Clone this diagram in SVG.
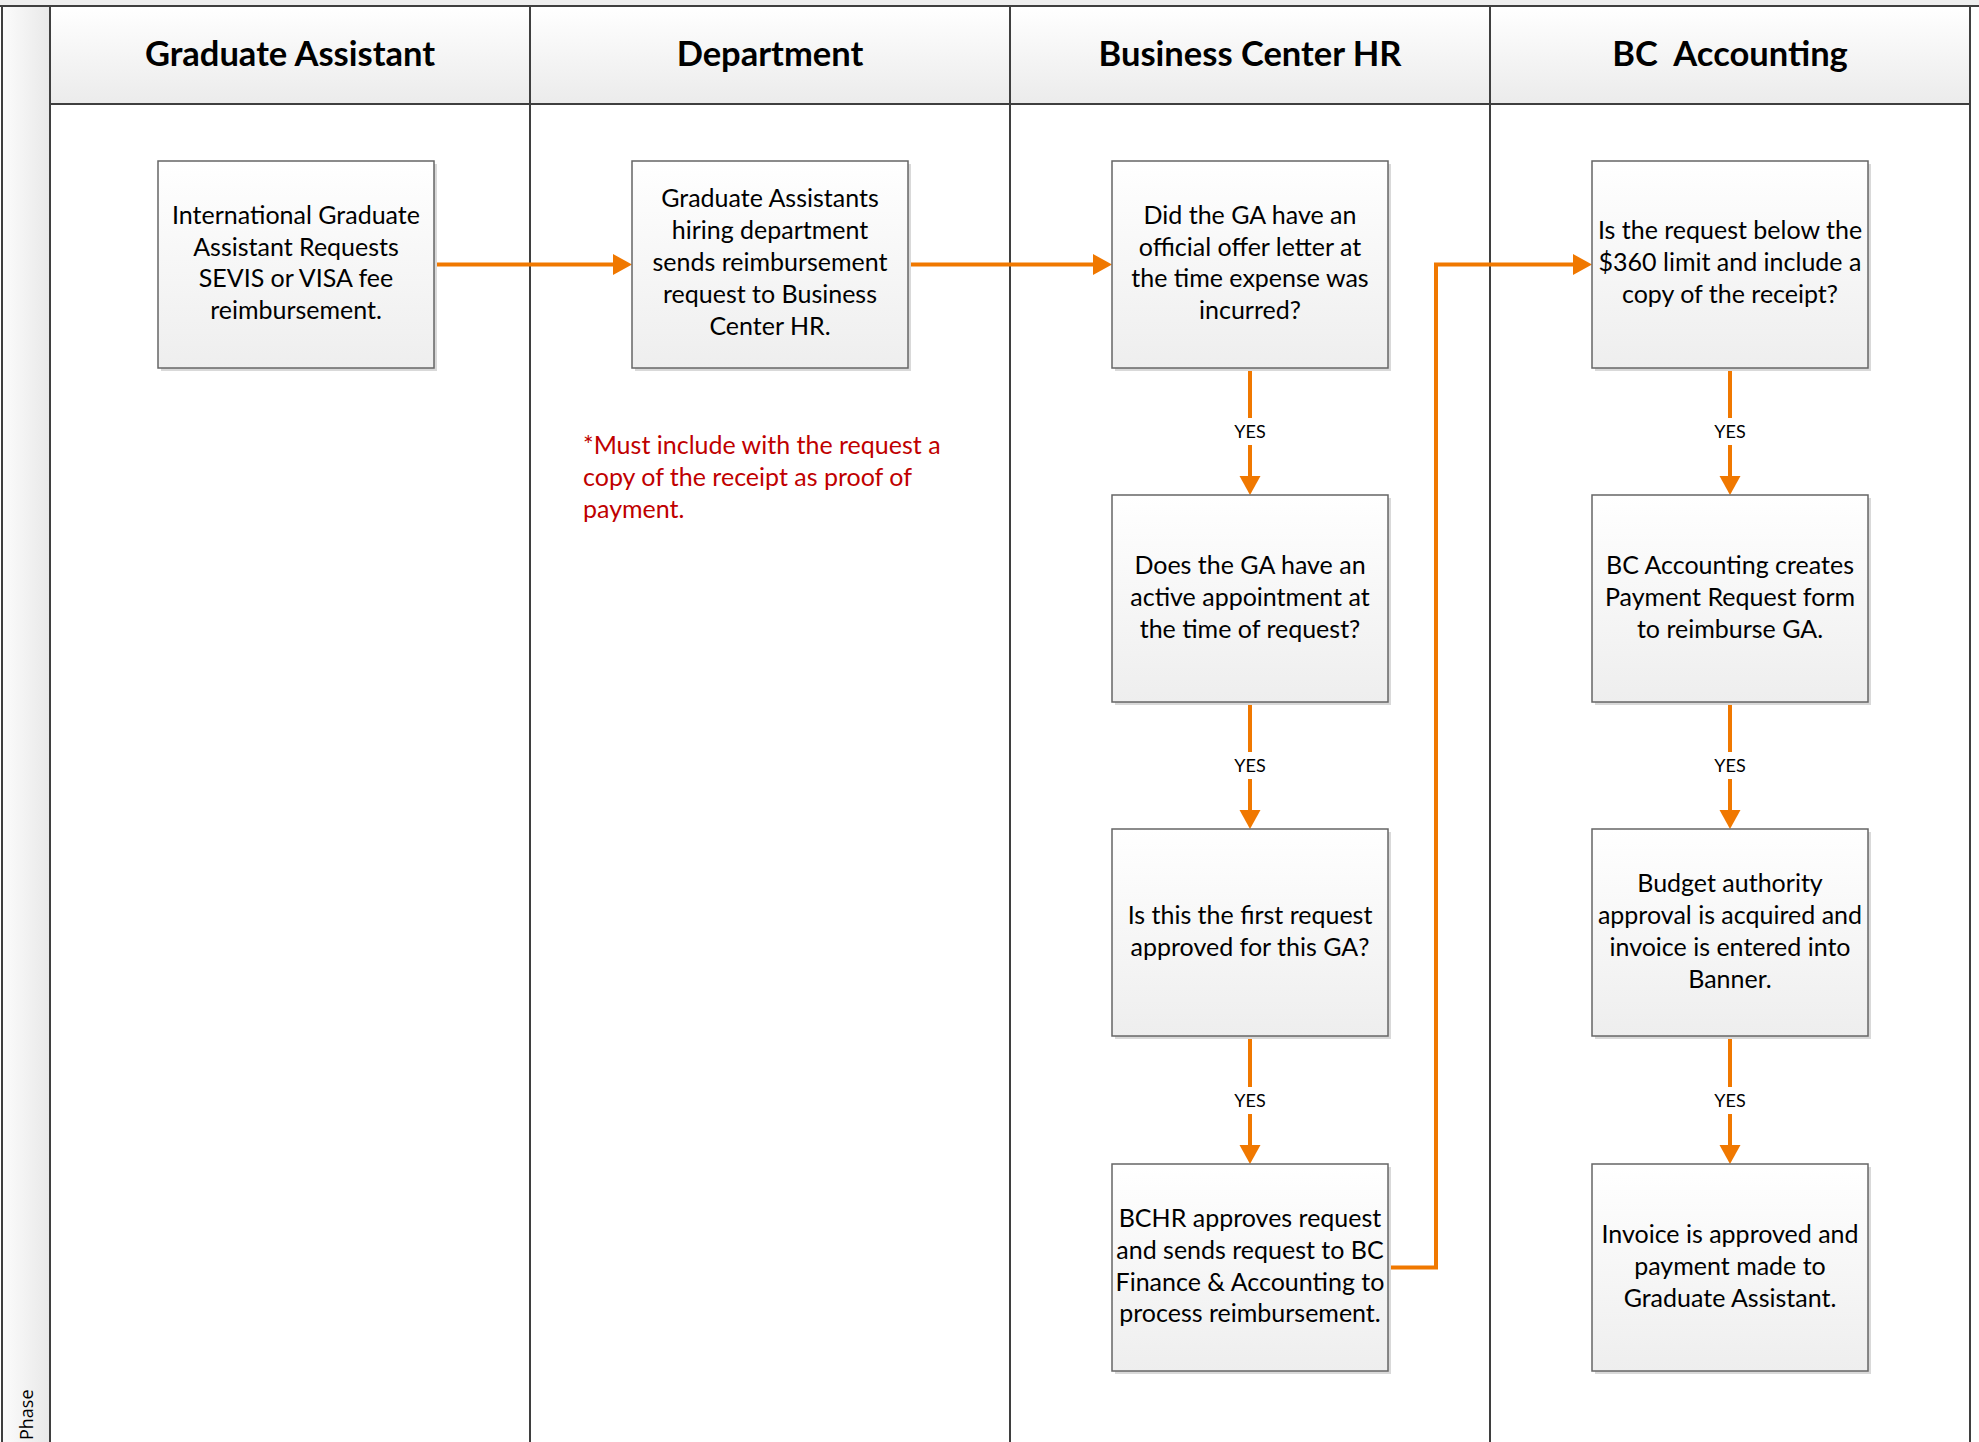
<svg xmlns="http://www.w3.org/2000/svg" width="1979" height="1442" viewBox="0 0 1979 1442">
<defs>
<linearGradient id="gBox" x1="0" y1="0" x2="0" y2="1"><stop offset="0" stop-color="#ffffff"/><stop offset="1" stop-color="#eeeeee"/></linearGradient>
<linearGradient id="gHead" x1="0" y1="0" x2="0" y2="1"><stop offset="0" stop-color="#ffffff"/><stop offset="1" stop-color="#ebebeb"/></linearGradient>
<linearGradient id="gPhase" x1="0" y1="0" x2="1" y2="0"><stop offset="0" stop-color="#fcfcfc"/><stop offset="1" stop-color="#e8e8e8"/></linearGradient>
<marker id="arr" markerUnits="userSpaceOnUse" markerWidth="20" markerHeight="22" refX="0" refY="11" orient="auto" viewBox="0 0 20 22"><path d="M0,0.5 L19,11 L0,21.5 Z" fill="#F07800"/></marker>
</defs>
<style>
.lane{stroke:#3f3f3f;stroke-width:2;fill:none}
.hdr{font-family:Lato,"Liberation Sans",sans-serif;font-weight:bold;font-size:34.5px;fill:#000;text-anchor:middle;white-space:pre}
.box{fill:url(#gBox);stroke:#666666;stroke-width:1.5}
.shd{fill:#d9d9d9}
.txt{font-family:Lato,"Liberation Sans",sans-serif;font-size:25px;fill:#000;text-anchor:middle}
.note{font-family:Lato,"Liberation Sans",sans-serif;font-size:25px;fill:#C00000}
.con{stroke:#F07800;stroke-width:4;fill:none;marker-end:url(#arr)}
.yes{font-family:Lato,"Liberation Sans",sans-serif;font-size:18px;fill:#000;text-anchor:middle}
.phase{font-family:"Open Sans","Noto Sans",sans-serif;font-size:18px;fill:#000}
</style>
<rect x="0" y="0" width="1979" height="1442" fill="#ffffff"/>
<g id="pool">
<rect x="0" y="0" width="1979" height="6" fill="#eeeeee"/>
<rect x="2" y="6" width="48" height="1436" fill="url(#gPhase)"/>
<rect x="50" y="6" width="1920" height="98" fill="url(#gHead)"/>
<line class="lane" x1="0" y1="6" x2="1979" y2="6"/>
<line class="lane" x1="2" y1="6" x2="2" y2="1442"/>
<line class="lane" x1="50" y1="6" x2="50" y2="1442"/>
<line class="lane" x1="50" y1="104" x2="1970" y2="104"/>
<line class="lane" x1="530" y1="6" x2="530" y2="1442"/>
<line class="lane" x1="1010" y1="6" x2="1010" y2="1442"/>
<line class="lane" x1="1490" y1="6" x2="1490" y2="1442"/>
<line class="lane" x1="1970" y1="6" x2="1970" y2="1442"/>
<text class="phase" transform="translate(33,1440) rotate(-90)">Phase</text>
<text class="hdr" x="290" y="66">Graduate Assistant</text>
<text class="hdr" x="770" y="66">Department</text>
<text class="hdr" x="1250" y="66">Business Center HR</text>
<text class="hdr" x="1730" y="66">BC  Accounting</text>
</g>
<g id="connectors">
<path class="con" d="M434,264.5 H613"/>
<path class="con" d="M908,264.5 H1093"/>
<path class="con" d="M1388,1267.5 H1436 V264.5 H1573"/>
<path class="con" d="M1250,368 V476"/>
<path class="con" d="M1250,702 V810"/>
<path class="con" d="M1250,1037 V1145"/>
<path class="con" d="M1730,368 V476"/>
<path class="con" d="M1730,702 V810"/>
<path class="con" d="M1730,1037 V1145"/>
<rect x="1230" y="418" width="40" height="27" fill="#fff"/>
<rect x="1230" y="752" width="40" height="27" fill="#fff"/>
<rect x="1230" y="1087" width="40" height="27" fill="#fff"/>
<rect x="1710" y="418" width="40" height="27" fill="#fff"/>
<rect x="1710" y="752" width="40" height="27" fill="#fff"/>
<rect x="1710" y="1087" width="40" height="27" fill="#fff"/>
<text class="yes" x="1250" y="438">YES</text>
<text class="yes" x="1250" y="772">YES</text>
<text class="yes" x="1250" y="1107">YES</text>
<text class="yes" x="1730" y="438">YES</text>
<text class="yes" x="1730" y="772">YES</text>
<text class="yes" x="1730" y="1107">YES</text>
</g>
<g id="n1">
<rect class="shd" x="161" y="164" width="276" height="207"/>
<rect class="box" x="158" y="161" width="276" height="207"/>
<text class="txt" x="296" y="224">International Graduate</text>
<text class="txt" x="296" y="256">Assistant Requests</text>
<text class="txt" x="296" y="287">SEVIS or VISA fee</text>
<text class="txt" x="296" y="319">reimbursement.</text>
</g>
<g id="n2">
<rect class="shd" x="635" y="164" width="276" height="207"/>
<rect class="box" x="632" y="161" width="276" height="207"/>
<text class="txt" x="770" y="207">Graduate Assistants</text>
<text class="txt" x="770" y="239">hiring department</text>
<text class="txt" x="770" y="271">sends reimbursement</text>
<text class="txt" x="770" y="303">request to Business</text>
<text class="txt" x="770" y="335">Center HR.</text>
</g>
<g id="note">
<text class="note" x="583" y="454">*Must include with the request a</text>
<text class="note" x="583" y="486">copy of the receipt as proof of</text>
<text class="note" x="583" y="518">payment.</text>
</g>
<g id="n3">
<rect class="shd" x="1115" y="164" width="276" height="207"/>
<rect class="box" x="1112" y="161" width="276" height="207"/>
<text class="txt" x="1250" y="224">Did the GA have an</text>
<text class="txt" x="1250" y="256">official offer letter at</text>
<text class="txt" x="1250" y="287">the time expense was</text>
<text class="txt" x="1250" y="319">incurred?</text>
</g>
<g id="n4">
<rect class="shd" x="1115" y="498" width="276" height="207"/>
<rect class="box" x="1112" y="495" width="276" height="207"/>
<text class="txt" x="1250" y="574">Does the GA have an</text>
<text class="txt" x="1250" y="606">active appointment at</text>
<text class="txt" x="1250" y="638">the time of request?</text>
</g>
<g id="n5">
<rect class="shd" x="1115" y="832" width="276" height="207"/>
<rect class="box" x="1112" y="829" width="276" height="207"/>
<text class="txt" x="1250" y="924">Is this the first request</text>
<text class="txt" x="1250" y="956">approved for this GA?</text>
</g>
<g id="n6">
<rect class="shd" x="1115" y="1167" width="276" height="207"/>
<rect class="box" x="1112" y="1164" width="276" height="207"/>
<text class="txt" x="1250" y="1227">BCHR approves request</text>
<text class="txt" x="1250" y="1259">and sends request to BC</text>
<text class="txt" x="1250" y="1291">Finance &amp; Accounting to</text>
<text class="txt" x="1250" y="1322">process reimbursement.</text>
</g>
<g id="n7">
<rect class="shd" x="1595" y="164" width="276" height="207"/>
<rect class="box" x="1592" y="161" width="276" height="207"/>
<text class="txt" x="1730" y="239">Is the request below the</text>
<text class="txt" x="1730" y="271">$360 limit and include a</text>
<text class="txt" x="1730" y="303">copy of the receipt?</text>
</g>
<g id="n8">
<rect class="shd" x="1595" y="498" width="276" height="207"/>
<rect class="box" x="1592" y="495" width="276" height="207"/>
<text class="txt" x="1730" y="574">BC Accounting creates</text>
<text class="txt" x="1730" y="606">Payment Request form</text>
<text class="txt" x="1730" y="638">to reimburse GA.</text>
</g>
<g id="n9">
<rect class="shd" x="1595" y="832" width="276" height="207"/>
<rect class="box" x="1592" y="829" width="276" height="207"/>
<text class="txt" x="1730" y="892">Budget authority</text>
<text class="txt" x="1730" y="924">approval is acquired and</text>
<text class="txt" x="1730" y="956">invoice is entered into</text>
<text class="txt" x="1730" y="988">Banner.</text>
</g>
<g id="n10">
<rect class="shd" x="1595" y="1167" width="276" height="207"/>
<rect class="box" x="1592" y="1164" width="276" height="207"/>
<text class="txt" x="1730" y="1243">Invoice is approved and</text>
<text class="txt" x="1730" y="1275">payment made to</text>
<text class="txt" x="1730" y="1307">Graduate Assistant.</text>
</g>
</svg>
